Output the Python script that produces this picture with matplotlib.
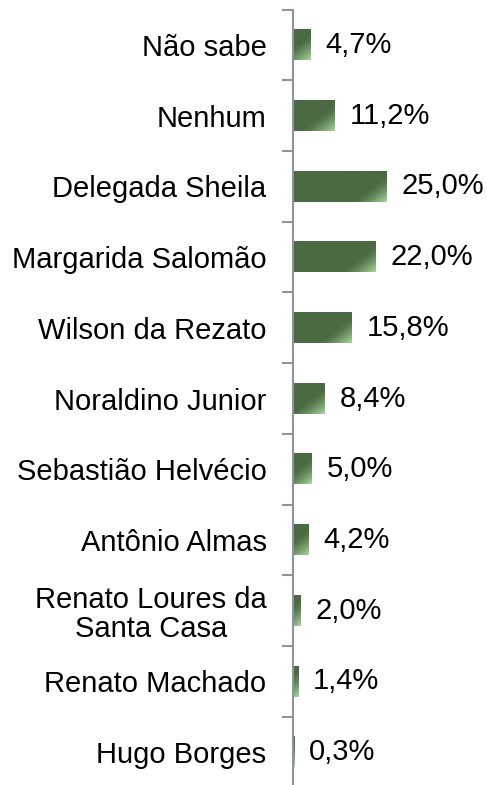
import matplotlib
matplotlib.use("Agg")
import matplotlib.pyplot as plt
import numpy as np

# candidatos e percentuais (de cima para baixo)
nomes = ["Não sabe", "Nenhum", "Delegada Sheila", "Margarida Salomão",
         "Wilson da Rezato", "Noraldino Junior", "Sebastião Helvécio",
         "Antônio Almas", "Renato Loures da\nSanta Casa", "Renato Machado",
         "Hugo Borges"]
valores = [4.7, 11.2, 25.0, 22.0, 15.8, 8.4, 5.0, 4.2, 2.0, 1.4, 0.3]
rotulos = ["4,7%", "11,2%", "25,0%", "22,0%", "15,8%", "8,4%", "5,0%",
           "4,2%", "2,0%", "1,4%", "0,3%"]

plt.rcParams['font.family'] = ['Liberation Sans', 'DejaVu Sans']

fig = plt.figure(figsize=(4.87, 7.85), dpi=100)
ax = fig.add_axes([0.6016, -0.003, 0.3984, 0.9907])

n = len(nomes)
pos = np.arange(n)[::-1]
xmax = 52.0
altura = 0.43

# pixels por unidade, para o degradê
px_x = 0.3984 * 487 / xmax
px_y = 0.9907 * 785 / n

escuro = np.array([75, 106, 66]) / 255.0
claro = np.array([165, 215, 155]) / 255.0

for y, v, r in zip(pos, valores, rotulos):
    W = max(v * px_x, 1)
    H = altura * px_y
    nx, ny = max(int(W), 2), int(H)
    xx, yy = np.meshgrid(np.linspace(0, W, nx), np.linspace(0, H, ny))
    d = (W - xx) + (H - yy) * 1.3
    t = np.clip(1 - d / 34.0, 0, 1) ** 1.4
    img = escuro[None, None, :] * (1 - t[..., None]) + claro[None, None, :] * t[..., None]
    ax.imshow(img, extent=[0, v, y - altura / 2, y + altura / 2],
              aspect='auto', interpolation='bilinear', origin='upper', zorder=2)
    ax.text(v + 15 / px_x, y, r, va='center', ha='left', fontsize=21, color='black')

ax.set_xlim(0, xmax)
ax.set_ylim(-0.5, n - 0.5)

ax.set_yticks(pos)
ax.set_yticklabels(nomes, fontsize=21, multialignment='center', linespacing=1.05)
ax.tick_params(axis='y', which='major', length=0, pad=19)
ax.set_yticks(np.arange(-0.5, n, 1.0), minor=True)
ax.tick_params(axis='y', which='minor', length=8, width=1.5, color='#8c949c')
ax.set_xticks([])

for s in ['top', 'right', 'bottom']:
    ax.spines[s].set_visible(False)
ax.spines['left'].set_color('#8c949c')
ax.spines['left'].set_linewidth(1.5)

fig.savefig("out.png", dpi=100)
